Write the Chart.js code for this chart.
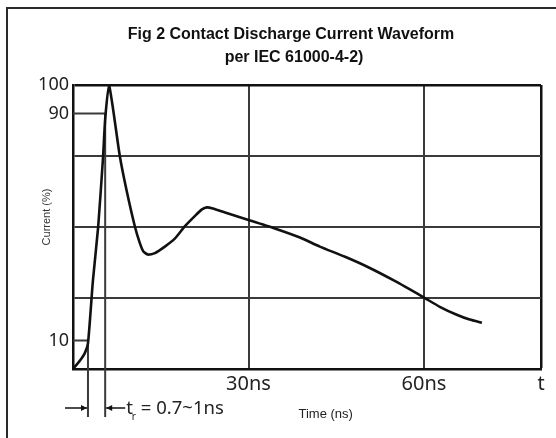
<!DOCTYPE html>
<html>
<head>
<meta charset="utf-8">
<script src="https://cdn.jsdelivr.net/npm/chart.js@4.4.1/dist/chart.umd.min.js"></script>
<style>
  body { margin: 0; background: #fff; }
</style>
</head>
<body>
<canvas id="chart" width="556" height="438"></canvas>
<script>
// waveform (time in ns, current in % of peak)
const timeNs = [0, 1.2, 2.0, 2.56, 3.4, 4.3, 5.15, 5.5, 6.15, 8.0, 9.2, 10.6, 11.4, 12.0, 12.8, 14.0, 15.7, 17.4, 19.1, 20.9, 22.05, 22.9, 23.9, 26.0, 30, 34.5, 38.8, 42.2, 46.5, 50.3, 55, 59.8, 62.7, 65.6, 67.8, 69.9];
const currentPct = [0, 3, 5.5, 9, 31, 50, 75, 88, 100, 75, 62.5, 50, 44.5, 41.5, 40.3, 40.8, 43.1, 45.9, 50.2, 54, 56.2, 56.9, 56.5, 55.1, 52.5, 49.5, 46.3, 43.1, 39.5, 36, 31, 25.4, 21.9, 19.1, 17.4, 16.3];

const xTicks = [0, 30, 60, 80];
const xTickLabels = ['', '30ns', '60ns', 't'];
const yTicks = [0, 10, 25, 50, 75, 90, 100];
const yTickLabels = ['', '10', '', '', '', '90', '100'];

// rise-time markers: 10% and 90% points
const riseTime = [2.56, 5.5];
const riseLevel = [10, 90];

const titleLines = ['Fig 2 Contact Discharge Current Waveform', 'per IEC 61000-4-2)'];

const points = timeNs.map((t, i) => ({ x: t, y: currentPct[i] }));

const frame = {
    id: 'frame',
    beforeDraw(chart) {
        const ctx = chart.ctx;
        ctx.save();
        ctx.fillStyle = '#fff';
        ctx.fillRect(0, 0, chart.width, chart.height);
        ctx.strokeStyle = '#2a2a2a';
        ctx.lineWidth = 2;
        ctx.beginPath();
        ctx.moveTo(7, chart.height);
        ctx.lineTo(7, 8);
        ctx.lineTo(chart.width, 8);
        ctx.stroke();

        // two-line heading, set a little right of centre like the original
        ctx.fillStyle = '#111';
        ctx.font = 'bold 16px "Liberation Sans", Arial';
        ctx.textAlign = 'center';
        ctx.textBaseline = 'middle';
        ctx.fillText(titleLines[0], 291, 35);
        ctx.fillText(titleLines[1], 294, 58);

        // y axis caption
        ctx.fillStyle = '#333';
        ctx.font = '11px "Liberation Sans", Arial';
        ctx.translate(47, 217);
        ctx.rotate(-Math.PI / 2);
        ctx.fillText('Current (%)', 0, 0);
        ctx.restore();
    }
};

const marks = {
    id: 'marks',
    beforeDatasetsDraw(chart) {
        const ctx = chart.ctx;
        const x = chart.scales.x;
        const y = chart.scales.y;
        const bottom = chart.chartArea.bottom;
        ctx.save();
        ctx.strokeStyle = '#3a3a3a';
        ctx.lineWidth = 2;
        for (let i = 0; i < riseTime.length; i++) {
            const px = x.getPixelForValue(riseTime[i]);
            const py = y.getPixelForValue(riseLevel[i]);
            ctx.beginPath();
            ctx.moveTo(x.getPixelForValue(0), py);
            ctx.lineTo(px, py);
            ctx.moveTo(px, py);
            ctx.lineTo(px, bottom + 48);
            ctx.stroke();
        }
        ctx.restore();
    },
    afterDraw(chart) {
        const ctx = chart.ctx;
        const x = chart.scales.x;
        const bottom = chart.chartArea.bottom;
        const a = x.getPixelForValue(riseTime[0]);
        const b = x.getPixelForValue(riseTime[1]);
        const ay = bottom + 39;
        ctx.save();
        ctx.strokeStyle = '#111';
        ctx.fillStyle = '#111';
        ctx.lineWidth = 1.5;
        // arrow pointing right at the 10% line
        ctx.beginPath();
        ctx.moveTo(a - 23, ay);
        ctx.lineTo(a - 1, ay);
        ctx.stroke();
        ctx.beginPath();
        ctx.moveTo(a - 1, ay);
        ctx.lineTo(a - 7, ay - 3);
        ctx.lineTo(a - 7, ay + 3);
        ctx.closePath();
        ctx.fill();
        // arrow pointing left at the 90% line
        ctx.beginPath();
        ctx.moveTo(b + 1, ay);
        ctx.lineTo(b + 20, ay);
        ctx.stroke();
        ctx.beginPath();
        ctx.moveTo(b + 1, ay);
        ctx.lineTo(b + 7, ay - 3);
        ctx.lineTo(b + 7, ay + 3);
        ctx.closePath();
        ctx.fill();

        ctx.fillStyle = '#222';
        ctx.textBaseline = 'alphabetic';
        ctx.textAlign = 'left';
        ctx.font = '18.5px "Noto Sans"';
        let tx = b + 21;
        ctx.fillText('t', tx, ay + 6);
        tx += ctx.measureText('t').width;
        ctx.font = '10px "Noto Sans"';
        ctx.fillText('r', tx - 1, ay + 12);
        tx += 8;
        ctx.font = '18.5px "Noto Sans"';
        ctx.fillText('= 0.7~1ns', tx, ay + 6);

        ctx.font = '13px "Liberation Sans"';
        ctx.textAlign = 'center';
        ctx.textBaseline = 'middle';
        ctx.fillText('Time (ns)', x.getPixelForValue(43.2), bottom + 45);
        ctx.restore();
    }
};

const config = {
    type: 'line',
    data: {
        datasets: [{
            data: points,
            borderColor: '#111',
            borderWidth: 2.6,
            pointRadius: 0,
            fill: false,
            tension: 0.2,
            borderJoinStyle: 'round'
        }]
    },
    options: {
        responsive: false,
        animation: false,
        layout: { padding: { left: 0, right: 15, top: 85, bottom: 0 } },
        plugins: {
            legend: { display: false },
            tooltip: { enabled: false },
            title: { display: false }
        },
        scales: {
            x: {
                type: 'linear',
                min: 0,
                max: 80,
                afterBuildTicks: (s) => { s.ticks = xTicks.map(v => ({ value: v })); },
                afterFit: (s) => { s.height = 69; },
                ticks: {
                    autoSkip: false,
                    maxRotation: 0,
                    padding: 3,
                    color: '#222',
                    font: { family: '"Noto Sans"', size: 20 },
                    callback: (v) => xTickLabels[xTicks.indexOf(v)]
                },
                grid: {
                    drawTicks: false,
                    color: (c) => c.tick && c.tick.value === 80 ? '#111' : '#3a3a3a',
                    lineWidth: (c) => c.tick && c.tick.value === 80 ? 2.5 : 2
                },
                border: { color: '#111', width: 2.5 }
            },
            y: {
                min: 0,
                max: 100,
                afterBuildTicks: (s) => { s.ticks = yTicks.map(v => ({ value: v })); },
                afterFit: (s) => { s.width = 73; },
                ticks: {
                    autoSkip: false,
                    padding: 4,
                    color: '#222',
                    font: { family: '"Noto Sans"', size: 18 },
                    callback: (v) => yTickLabels[yTicks.indexOf(v)]
                },
                grid: {
                    drawTicks: false,
                    color: (c) => {
                        const v = c.tick ? c.tick.value : null;
                        if (v === 10 || v === 90) return 'rgba(0,0,0,0)';
                        return v === 100 ? '#111' : '#3a3a3a';
                    },
                    lineWidth: (c) => c.tick && c.tick.value === 100 ? 2.5 : 2
                },
                border: { color: '#111', width: 2.5 }
            }
        }
    },
    plugins: [frame, marks]
};

const chart = new Chart(document.getElementById('chart'), config);
</script>
</body>
</html>
